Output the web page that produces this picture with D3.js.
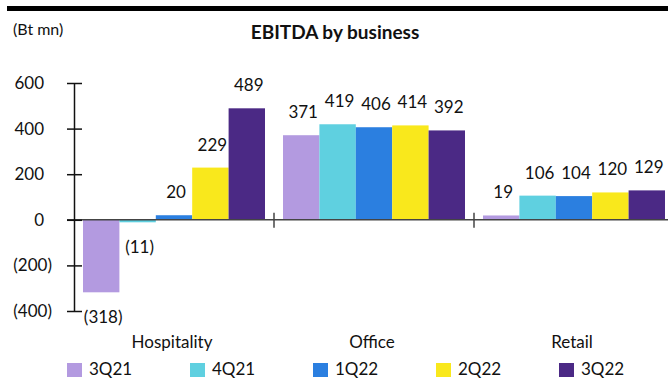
<!DOCTYPE html>
<html>
<head>
<meta charset="utf-8">
<script src="https://cdn.jsdelivr.net/npm/d3@7"></script>
<style>
  body{margin:0;background:#fff;}
  svg{display:block;font-family:Lato,"Noto Sans",sans-serif;}
</style>
</head>
<body>
<svg id="chart" width="668" height="380"></svg>
<script>
// data
const categories = ['Hospitality','Office','Retail'];
const quarters   = ['3Q21','4Q21','1Q22','2Q22','3Q22'];
const hospitality = [-318, -11, 20, 229, 489];
const office      = [371, 419, 406, 414, 392];
const retail      = [19, 106, 104, 120, 129];
const yTicks      = [-400, -200, 0, 200, 400, 600];
const colors      = ['#b39ae0','#5fd0e0','#2b7fe0','#f9e81c','#4b2985'];

const series = {Hospitality:hospitality, Office:office, Retail:retail};

const svg=d3.select('#chart');
const W=668, H=380;

// header rule + captions
svg.append('rect').attr('x',7).attr('y',6).attr('width',W-7).attr('height',5).attr('fill','#000');
svg.append('text').attr('x',13).attr('y',35).attr('font-size',16).attr('fill','#111').text('(Bt mn)');
svg.append('text').attr('x',335).attr('y',39).attr('text-anchor','middle')
  .attr('font-size',19).attr('font-weight','bold').attr('fill','#111').text('EBITDA by business');

const y=d3.scaleLinear().domain([-400,600]).range([311,83]);
const x0=d3.scaleBand().domain(categories).range([74,674]).paddingInner(0.09).paddingOuter(0.045);
const x1=d3.scaleBand().domain(quarters).range([0,x0.bandwidth()]);

// bars
const groups=svg.append('g').selectAll('g').data(categories).join('g')
  .attr('transform',c=>`translate(${x0(c)},0)`);
groups.selectAll('rect').data(c=>series[c].map((v,i)=>({q:quarters[i],v,i})))
  .join('rect')
  .attr('x',d=>x1(d.q)).attr('width',x1.bandwidth())
  .attr('y',d=>y(Math.max(0,d.v))).attr('height',d=>Math.abs(y(d.v)-y(0)))
  .attr('fill',d=>colors[d.i]);

const fmt=v=>v<0?`(${Math.abs(v)})`:String(v);
groups.selectAll('text.val').data(c=>series[c].map((v,i)=>({q:quarters[i],v,i})))
  .join('text').attr('class','val')
  .attr('x',d=>x1(d.q)+x1.bandwidth()/2+2)
  .attr('y',d=>d.v<0?y(d.v)+31:y(d.v)-17)
  .attr('text-anchor','middle').attr('font-size',17).attr('fill','#111')
  .text(d=>fmt(d.v));

// zero line with category separators
svg.append('line').attr('x1',67).attr('x2',W).attr('y1',y(0)).attr('y2',y(0))
  .attr('stroke','#444').attr('stroke-width',1.5);
const seps=categories.slice(1).map(c=>x0(c)-x0.step()*x0.paddingInner()/2);
svg.append('g').selectAll('line').data(seps).join('line')
  .attr('x1',d=>d).attr('x2',d=>d).attr('y1',y(0)-7).attr('y2',y(0)+8)
  .attr('stroke','#444').attr('stroke-width',1.5);

// y axis
const yAxis=d3.axisLeft(y).tickValues(yTicks).tickSizeInner(0).tickSizeOuter(0).tickFormat(()=>'');
const ya=svg.append('g').attr('transform','translate(74,0)').call(yAxis);
ya.select('.domain').attr('stroke','#111').attr('stroke-width',1.5);
ya.selectAll('.tick line').attr('x1',-7).attr('x2',8).attr('stroke','#111').attr('stroke-width',1.5);
svg.append('g').selectAll('text').data(yTicks).join('text')
  .attr('x',d=>d<0?52:44).attr('y',d=>y(d)+6).attr('text-anchor','end')
  .attr('font-size',17).attr('fill','#111').text(fmt);

// category labels
svg.append('g').selectAll('text').data(categories).join('text')
  .attr('x',c=>x0(c)+x0.bandwidth()/2-2).attr('y',348).attr('text-anchor','middle')
  .attr('font-size',17).attr('fill','#111').text(c=>c);

// legend
const lg=svg.append('g').selectAll('g').data(quarters).join('g')
  .attr('transform',(q,i)=>`translate(${67+123*i},362)`);
lg.append('rect').attr('y',1).attr('width',15).attr('height',14).attr('fill',(q,i)=>colors[i]);
lg.append('text').attr('x',22).attr('y',13).attr('font-size',17).attr('fill','#111').text(q=>q);
</script>
</body>
</html>
